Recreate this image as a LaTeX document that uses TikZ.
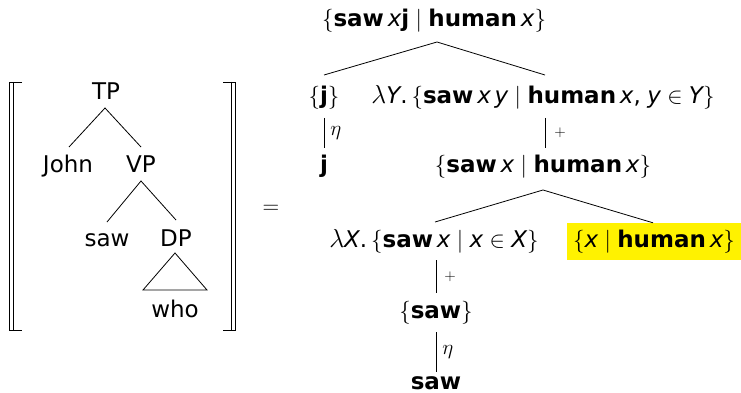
\documentclass[tikz,border=0pt]{standalone}
\usepackage{fix-cm}
\usepackage{fontspec}
\setmainfont{DejaVu Sans}
\usetikzlibrary{calc}
\definecolor{hl}{RGB}{255,242,0}
\newcommand\bw[1]{\textbf{#1}}
\newcommand\vi[1]{\textit{#1}}
\newcommand\tx[1]{\mbox{#1}}
\newcommand\lam{\mbox{\fontsize{26}{28}\selectfont$\lambda$}}
\begin{document}
\begin{tikzpicture}[x=1pt,y=-1pt,
  txt/.style={inner sep=0pt, anchor=base, font=\fontsize{23}{28}\selectfont},
  lbl/.style={inner sep=0pt, font=\fontsize{21}{24}\selectfont},
  plbl/.style={inner sep=0pt, font=\fontsize{15}{18}\selectfont},
  edge/.style={line width=0.8pt},
  hlbox/.style={fill=hl, inner sep=0pt, minimum width=174pt, minimum height=37pt, font=\fontsize{23}{28}\selectfont},
]
\fill[white] (0,0) rectangle (741,393);
\useasboundingbox (0,0) rectangle (741,393);

% ---------- left tree ----------
\node[txt] (tp) at (106,100) {TP};
\node[txt] (john) at (68,172) {John};
\node[txt] (vp) at (141,172) {VP};
\node[txt] (saw1) at (107,246) {saw};
\node[txt] (dp) at (176,246) {DP};
\node[txt] (who) at (175,317) {who};

\draw[edge] ($(john.base)+(1,-25)$) -- ($(tp.base)+(-1,8)$) -- ($(vp.base)+(0,-25)$);
\draw[edge] ($(saw1.base)+(0,-24)$) -- ($(vp.base)+(0,9)$) -- ($(dp.base)+(0,-26)$);
\draw[edge] ($(dp.base)+(-1,7)$) -- ($(who.base)+(-32,-27)$) -- ($(who.base)+(32,-27)$) -- cycle;

% ---------- double brackets ----------
\draw[edge] (22,82) -- (9,82) -- (9,330) -- (22,330);
\draw[edge] (13,82) -- (13,330);
\draw[edge] (223,82) -- (235,82) -- (235,330) -- (223,330);
\draw[edge] (231,82) -- (231,330);

\node[txt] (eq) at (271,213) {$=$};

% ---------- right derivation ----------
\node[txt] (r0) at (434,27) {$\{\bw{saw}\,\vi{x}\bw{j}\mid\bw{human}\,\vi{x}\}$};
\node[txt] (r1a) at (324,103) {$\{\bw{j}\}$};
\node[txt] (r1b) at (543,103) {$\lam\vi{Y}\tx{.}\,\{\bw{saw}\,\vi{x}\,\vi{y}\mid\bw{human}\,\vi{x}\tx{,}\;\vi{y}\in\vi{Y}\}$};
\node[txt] (r2a) at (324,172) {\bw{j}};
\node[txt] (r2b) at (543,172) {$\{\bw{saw}\,\vi{x}\mid\bw{human}\,\vi{x}\}$};
\node[txt] (r3a) at (434,247) {$\lam\vi{X}\tx{.}\,\{\bw{saw}\,\vi{x}\mid\vi{x}\in\vi{X}\}$};
\node[hlbox] (r3b) at (654,241.5) {$\{\vi{x}\mid\bw{human}\,\vi{x}\}$};
\node[txt] (r4) at (436,318) {$\{\bw{saw}\}$};
\node[txt] (r5) at (436,389) {\bw{saw}};

\draw[edge] ($(r1a.base)+(0,-28)$) -- ($(r0.base)+(3,15)$) -- ($(r1b.base)+(2,-28)$);
\draw[edge] ($(r1a.base)+(0,15)$) -- node[lbl, right=6pt]{$\eta$} ($(r2a.base)+(0,-24)$);
\draw[edge] ($(r1b.base)+(2,15)$) -- node[plbl, right=9pt]{$+$} ($(r2b.base)+(2,-24)$);
\draw[edge] ($(r3a.base)+(1,-25)$) -- ($(r2b.base)+(0,18)$) -- ([xshift=-1pt]r3b.north);
\draw[edge] ($(r4.base|-r3a.base)+(0,13)$) -- node[plbl, right=8pt]{$+$} ($(r4.base)+(0,-25)$);
\draw[edge] ($(r4.base)+(0,14)$) -- node[lbl, right=6pt]{$\eta$} ($(r5.base)+(0,-17)$);
\end{tikzpicture}
\end{document}
